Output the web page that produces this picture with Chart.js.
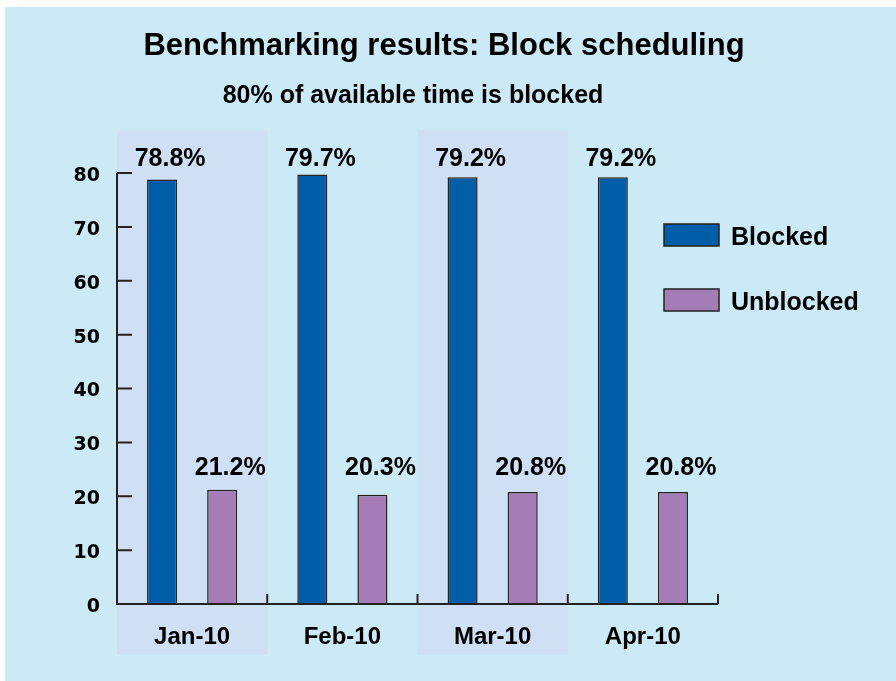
<!DOCTYPE html>
<html>
<head>
<meta charset="utf-8">
<script src="https://cdn.jsdelivr.net/npm/chart.js@4.4.1/dist/chart.umd.min.js"></script>
<style>
  html, body { margin: 0; padding: 0; background: #ffffff; }
  canvas { display: block; }
</style>
</head>
<body>
<canvas id="c" width="896" height="681"></canvas>
<script>
const titleText = 'Benchmarking results: Block scheduling';
const subtitleText = '80% of available time is blocked';
const categories = ['Jan-10', 'Feb-10', 'Mar-10', 'Apr-10'];
const seriesNames = ['Blocked', 'Unblocked'];
const blocked = [78.8, 79.7, 79.2, 79.2];
const unblocked = [21.2, 20.3, 20.8, 20.8];
const yMin = 0, yMax = 80, yStep = 10;

const PANEL = '#cce9f6';
const BAND = '#cfdff4';
const BLUE = '#005da8';
const PURPLE = '#a67cb7';
const LINE = '#222222';
const FONT = '"Liberation Sans", Arial, Helvetica, sans-serif';

const decor = {
  id: 'decor',
  beforeDraw(chart) {
    const ctx = chart.ctx;
    const x = chart.scales.x;
    const area = chart.chartArea;
    ctx.save();
    ctx.fillStyle = '#ffffff';
    ctx.fillRect(0, 0, chart.width, chart.height);
    ctx.fillStyle = PANEL;
    ctx.fillRect(5, 7, chart.width - 5, chart.height - 7);
    const w = (x.getPixelForValue(1) - x.getPixelForValue(0));
    ctx.fillStyle = BAND;
    categories.forEach((c, i) => {
      if (i % 2 === 0) {
        const cx = x.getPixelForValue(i);
        ctx.fillRect(cx - w / 2, area.top - 43, w, area.bottom - area.top + 94);
      }
    });
    ctx.fillStyle = '#000';
    ctx.textAlign = 'center';
    ctx.textBaseline = 'alphabetic';
    ctx.font = 'bold 31px ' + FONT;
    ctx.fillText(titleText, 444, 55);
    ctx.font = 'bold 25px ' + FONT;
    ctx.fillText(subtitleText, 413, 103);
    ctx.restore();
  },
  afterDatasetsDraw(chart) {
    const ctx = chart.ctx;
    const x = chart.scales.x;
    const y = chart.scales.y;
    const area = chart.chartArea;
    ctx.save();
    ctx.strokeStyle = LINE;
    ctx.lineWidth = 2;
    ctx.beginPath();
    ctx.moveTo(area.left, y.getPixelForValue(yMax));
    ctx.lineTo(area.left, area.bottom);
    ctx.lineTo(area.right, area.bottom);
    y.ticks.forEach(t => {
      if (t.value === yMin) return;
      const py = y.getPixelForValue(t.value);
      ctx.moveTo(area.left, py);
      ctx.lineTo(area.left + 15, py);
    });
    const w = (x.getPixelForValue(1) - x.getPixelForValue(0));
    categories.forEach((c, i) => {
      const bx = x.getPixelForValue(i) + w / 2;
      ctx.moveTo(bx, area.bottom);
      ctx.lineTo(bx, area.bottom - 10);
    });
    ctx.stroke();
    ctx.fillStyle = '#000';
    ctx.font = 'bold 25px ' + FONT;
    ctx.textAlign = 'center';
    ctx.textBaseline = 'alphabetic';
    chart.data.datasets.forEach((ds, di) => {
      const rowY = y.getPixelForValue(Math.max(...ds.data)) - (di === 0 ? 9 : 15);
      chart.getDatasetMeta(di).data.forEach((bar, i) => {
        ctx.fillText(ds.data[i].toFixed(1) + '%', bar.x + 8, rowY);
      });
    });
    ctx.font = 'bold 25px ' + FONT;
    ctx.textAlign = 'left';
    chart.data.datasets.forEach((ds, di) => {
      const top = 224 + di * 65;
      ctx.fillStyle = ds.backgroundColor;
      ctx.fillRect(664, top, 55, 22);
      ctx.strokeStyle = LINE;
      ctx.lineWidth = 1.5;
      ctx.strokeRect(664, top, 55, 22);
      ctx.fillStyle = '#000';
      ctx.fillText(ds.label, 731, top + 20.5);
    });
    ctx.restore();
  }
};

new Chart(document.getElementById('c'), {
  type: 'bar',
  data: {
    labels: categories,
    datasets: [
      { label: seriesNames[0], data: blocked, backgroundColor: BLUE, borderColor: LINE, borderWidth: 1.5 },
      { label: seriesNames[1], data: unblocked, backgroundColor: PURPLE, borderColor: LINE, borderWidth: 1.5 }
    ]
  },
  options: {
    responsive: false,
    animation: false,
    devicePixelRatio: 1,
    categoryPercentage: 0.8,
    barPercentage: 0.5,
    layout: { padding: { top: 173, right: 178, bottom: 0, left: 0 } },
    plugins: { legend: { display: false }, title: { display: false }, tooltip: { enabled: false } },
    scales: {
      x: {
        grid: { display: false, drawTicks: false },
        border: { display: false },
        ticks: { color: '#000', font: { family: FONT, size: 24, weight: 'bold' }, padding: 19, maxRotation: 0 },
        afterFit(s) { s.height = 77; }
      },
      y: {
        min: yMin, max: yMax,
        grid: { display: false, drawTicks: false },
        border: { display: false },
        ticks: { stepSize: yStep, color: '#000', font: { family: '"DejaVu Sans", sans-serif', size: 19, weight: 'bold' }, padding: 17, labelOffset: 3 },
        afterFit(s) { s.width = 117; }
      }
    }
  },
  plugins: [decor]
});
</script>
</body>
</html>
